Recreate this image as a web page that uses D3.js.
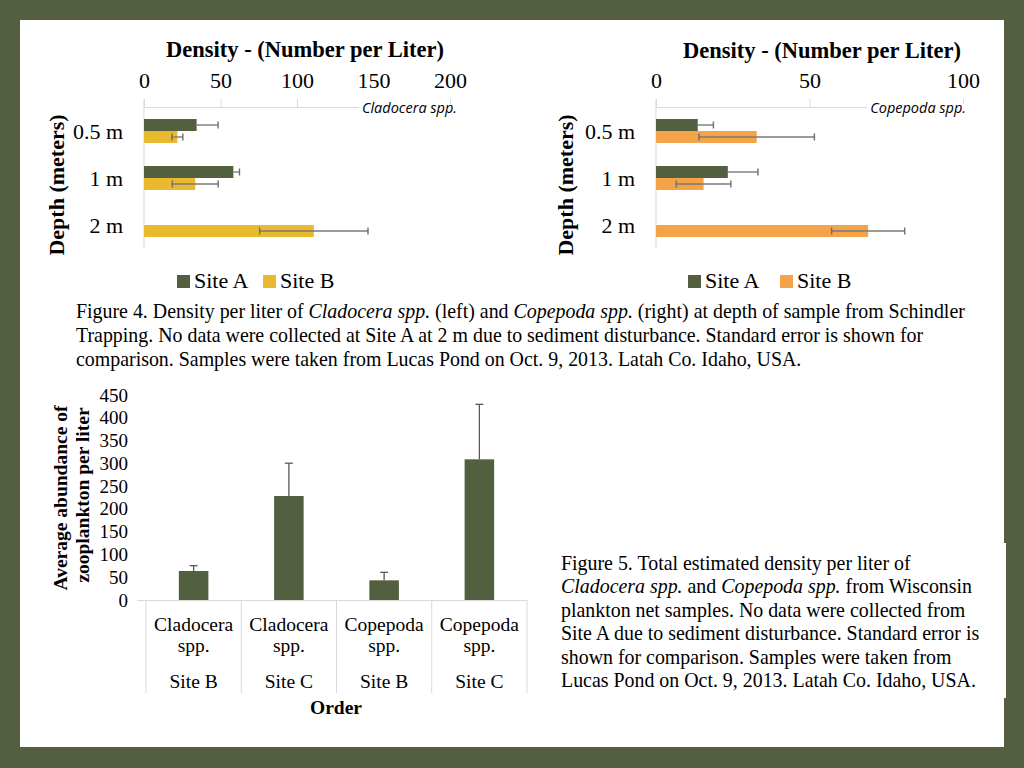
<!DOCTYPE html>
<html><head><meta charset="utf-8">
<script src="https://cdn.jsdelivr.net/npm/d3@7"></script>
<style>body{margin:0;background:#545f40;} svg{display:block;}</style>
</head><body>
<svg id="chart" width="1024" height="768"></svg>
<script>
// ---------- DATA ----------
const depthCats = ["0.5 m", "1 m", "2 m"];
const seriesNames = ["Site A", "Site B"];
const cladoceraA = [34.4, 58.4, null];
const cladoceraAErr = [14, 4, null];
const cladoceraB = [21.8, 33.5, 111];
const cladoceraBErr = [3.6, 15, 35.4];
const copepodaA = [13.6, 23.4, null];
const copepodaAErr = [5.1, 9.8, null];
const copepodaB = [32.8, 15.5, 69.1];
const copepodaBErr = [18.8, 8.9, 11.9];
const cladoceraTicks = [0, 50, 100, 150, 200];
const copepodaTicks = [0, 50, 100];

const orderNames = ["Cladocera spp.", "Cladocera spp.", "Copepoda spp.", "Copepoda spp."];
const orderSites = ["Site B", "Site C", "Site B", "Site C"];
const totalDensity = [63.7, 228.3, 43.2, 308.8];
const totalErr = [11.6, 72, 17.6, 120.7];
const totalTicks = [0, 50, 100, 150, 200, 250, 300, 350, 400, 450];

// ---------- STYLE ----------
const GREEN = "#53603f", YELLOW = "#e9b92f", ORANGE = "#f4a349";
const GRID = "#d9d9d9", SERIF = "'Liberation Serif','Times New Roman',serif";

const svg = d3.select("#chart");
svg.append("rect").attr("x", 0).attr("y", 0).attr("width", 1024).attr("height", 768).attr("fill", "#545f40");
svg.append("rect").attr("x", 20).attr("y", 20).attr("width", 984).attr("height", 727).attr("fill", "#fff");
svg.append("rect").attr("x", 1003).attr("y", 543).attr("width", 3).attr("height", 155).attr("fill", "#fff");

function topChart(opt) {
  const g = svg.append("g");
  const x = d3.scaleLinear().domain([0, opt.max]).range([opt.x0, opt.x1]);
  const y = d3.scaleBand().domain(depthCats).range([107.5, 248.5]).paddingInner(0.49).paddingOuter(0.245);
  const ys = d3.scaleBand().domain(seriesNames).range([0, y.bandwidth()]);

  // axis on top
  const ax = g.append("g").attr("transform", "translate(0,107)")
    .call(d3.axisTop(x).tickValues(opt.ticks).tickSize(8).tickSizeOuter(0).tickPadding(11));
  ax.select(".domain").attr("stroke", GRID);
  ax.selectAll(".tick line").attr("stroke", GRID);
  ax.selectAll(".tick text").attr("font-family", SERIF).attr("font-size", 22).attr("fill", "#000");
  // vertical axis line
  g.append("line").attr("x1", x(0)).attr("x2", x(0)).attr("y1", 99).attr("y2", 248).attr("stroke", GRID);

  // title
  g.append("text").attr("x", opt.titleX).attr("y", opt.titleY).attr("text-anchor", "middle")
    .attr("font-family", SERIF).attr("font-weight", "bold").attr("font-size", 22.5).text("Density - (Number per Liter)");

  // species label (with white backing over the axis line)
  const bg = g.append("rect").attr("fill", "#fff");
  const lbl = g.append("text").attr("x", opt.labelX).attr("y", 113).attr("text-anchor", "end")
    .attr("font-family", "'Open Sans',sans-serif").attr("font-style", "italic").attr("font-size", 14.5).text(opt.label);
  const bb = lbl.node().getBBox();
  bg.attr("x", bb.x - 3).attr("y", 104).attr("width", bb.width + 6).attr("height", 6);

  // category labels
  g.selectAll(".cat").data(depthCats).join("text")
    .attr("x", x(0) - 21).attr("y", d => y(d) + y.bandwidth() / 2 + 7.5).attr("text-anchor", "end")
    .attr("font-family", SERIF).attr("font-size", 22).text(d => d);

  // y title
  g.append("text").attr("transform", `translate(${opt.yTitleX},185) rotate(-90)`).attr("text-anchor", "middle")
    .attr("font-family", SERIF).attr("font-weight", "bold").attr("font-size", 22).text("Depth (meters)");

  // bars
  const series = [
    { name: "Site A", vals: opt.a, errs: opt.aErr, color: GREEN, both: false },
    { name: "Site B", vals: opt.b, errs: opt.bErr, color: opt.bColor, both: true }
  ];
  series.forEach(s => {
    depthCats.forEach((c, i) => {
      const v = s.vals[i];
      if (v == null) return;
      const yy = y(c) + ys(s.name);
      g.append("rect").attr("x", x(0)).attr("y", yy).attr("width", x(v) - x(0)).attr("height", ys.bandwidth()).attr("fill", s.color);
    });
  });
  series.forEach(s => {
    depthCats.forEach((c, i) => {
      const v = s.vals[i], e = s.errs[i];
      if (v == null) return;
      const yc = y(c) + ys(s.name) + ys.bandwidth() / 2;
      const lo = s.both ? v - e : v;
      g.append("line").attr("x1", x(lo)).attr("x2", x(v + e)).attr("y1", yc).attr("y2", yc).attr("stroke", "#7a7a7a").attr("stroke-width", 1.4);
      const caps = s.both ? [v - e, v + e] : [v + e];
      caps.forEach(t => g.append("line").attr("x1", x(t)).attr("x2", x(t)).attr("y1", yc - 3.5).attr("y2", yc + 3.5).attr("stroke", "#6e6e6e").attr("stroke-width", 1.4));
    });
  });

  // legend
  series.forEach((s, i) => {
    const lx = opt.legendX[i];
    g.append("rect").attr("x", lx).attr("y", 275).attr("width", 13).attr("height", 13).attr("fill", s.color);
    g.append("text").attr("x", lx + 17).attr("y", 288).attr("font-family", SERIF).attr("font-size", 22).text(s.name);
  });
}

topChart({ max: 200, x0: 144, x1: 450, ticks: cladoceraTicks, titleX: 305, titleY: 57, label: "Cladocera spp.", labelX: 457,
  yTitleX: 64, a: cladoceraA, aErr: cladoceraAErr, b: cladoceraB, bErr: cladoceraBErr, bColor: YELLOW, legendX: [177, 263] });
topChart({ max: 100, x0: 656, x1: 963, ticks: copepodaTicks, titleX: 822, titleY: 58, label: "Copepoda spp.", labelX: 966,
  yTitleX: 573, a: copepodaA, aErr: copepodaAErr, b: copepodaB, bErr: copepodaBErr, bColor: ORANGE, legendX: [688, 780] });

// ---------- Captions ----------
function caption(x, y0, lh, size, lines) {
  const t = svg.append("text").attr("font-family", SERIF).attr("font-size", size);
  lines.forEach((ln, i) => {
    ln.forEach((seg, j) => {
      const ts = t.append("tspan").text(seg[0]);
      if (j === 0) ts.attr("x", x).attr("y", y0 + i * lh);
      if (seg[1]) ts.attr("font-style", "italic");
    });
  });
}
caption(76, 318, 24, 19.9, [
  [["Figure 4. Density per liter of "], ["Cladocera spp.", 1], [" (left) and "], ["Copepoda spp.", 1], [" (right) at depth of sample from Schindler"]],
  [["Trapping. No data were collected at Site A at 2 m due to sediment disturbance. Standard error is shown for"]],
  [["comparison. Samples were taken from Lucas Pond on Oct. 9, 2013. Latah Co. Idaho, USA."]]
]);
caption(561, 570, 23.4, 19.9, [
  [["Figure 5. Total estimated density per liter of"]],
  [["Cladocera spp.", 1], [" and "], ["Copepoda spp.", 1], [" from Wisconsin"]],
  [["plankton net samples. No data were collected from"]],
  [["Site A due to sediment disturbance. Standard error is"]],
  [["shown for comparison. Samples were taken from"]],
  [["Lucas Pond on Oct. 9, 2013. Latah Co. Idaho, USA."]]
]);

// ---------- Bottom chart ----------
(function () {
  const g = svg.append("g");
  const idx = d3.range(totalDensity.length);
  const x = d3.scaleBand().domain(idx).range([146, 527]).paddingInner(0.69).paddingOuter(0.345);
  const y = d3.scaleLinear().domain([0, 450]).range([600, 395]);

  const ay = g.append("g").attr("transform", "translate(137,0)")
    .call(d3.axisLeft(y).tickValues(totalTicks).tickSize(0).tickPadding(9));
  ay.select(".domain").remove();
  ay.selectAll(".tick text").attr("font-family", SERIF).attr("font-size", 19).attr("fill", "#000");

  g.append("line").attr("x1", 137).attr("x2", 527).attr("y1", 600.5).attr("y2", 600.5).attr("stroke", GRID);
  const step = x.step();
  idx.concat([idx.length]).forEach(i => {
    const xx = 146 + i * step;
    g.append("line").attr("x1", xx).attr("x2", xx).attr("y1", 600).attr("y2", 693).attr("stroke", GRID);
  });

  g.selectAll(".bar").data(idx).join("rect")
    .attr("x", i => x(i)).attr("y", i => y(totalDensity[i])).attr("width", x.bandwidth())
    .attr("height", i => y(0) - y(totalDensity[i])).attr("fill", GREEN);
  idx.forEach(i => {
    const cx = x(i) + x.bandwidth() / 2;
    g.append("line").attr("x1", cx).attr("x2", cx).attr("y1", y(totalDensity[i])).attr("y2", y(totalDensity[i] + totalErr[i])).attr("stroke", "#595959").attr("stroke-width", 1.3);
    g.append("line").attr("x1", cx - 4).attr("x2", cx + 4).attr("y1", y(totalDensity[i] + totalErr[i])).attr("y2", y(totalDensity[i] + totalErr[i])).attr("stroke", "#595959").attr("stroke-width", 1.3);
    const parts = orderNames[i].split(" ");
    const cxc = 146 + (i + 0.5) * step;
    g.append("text").attr("x", cxc).attr("y", 631).attr("text-anchor", "middle").attr("font-family", SERIF).attr("font-size", 19.5).text(parts[0]);
    g.append("text").attr("x", cxc).attr("y", 652).attr("text-anchor", "middle").attr("font-family", SERIF).attr("font-size", 19.5).text(parts[1]);
    g.append("text").attr("x", cxc).attr("y", 688).attr("text-anchor", "middle").attr("font-family", SERIF).attr("font-size", 19.5).text(orderSites[i]);
  });

  g.append("text").attr("x", 336).attr("y", 714).attr("text-anchor", "middle").attr("font-family", SERIF)
    .attr("font-weight", "bold").attr("font-size", 19.5).text("Order");
  g.append("text").attr("transform", "translate(67,498) rotate(-90)").attr("text-anchor", "middle").attr("font-family", SERIF)
    .attr("font-weight", "bold").attr("font-size", 19.5).text("Average abundance of");
  g.append("text").attr("transform", "translate(89,495) rotate(-90)").attr("text-anchor", "middle").attr("font-family", SERIF)
    .attr("font-weight", "bold").attr("font-size", 19.5).text("zooplankton per liter");
})();
</script>
</body></html>
